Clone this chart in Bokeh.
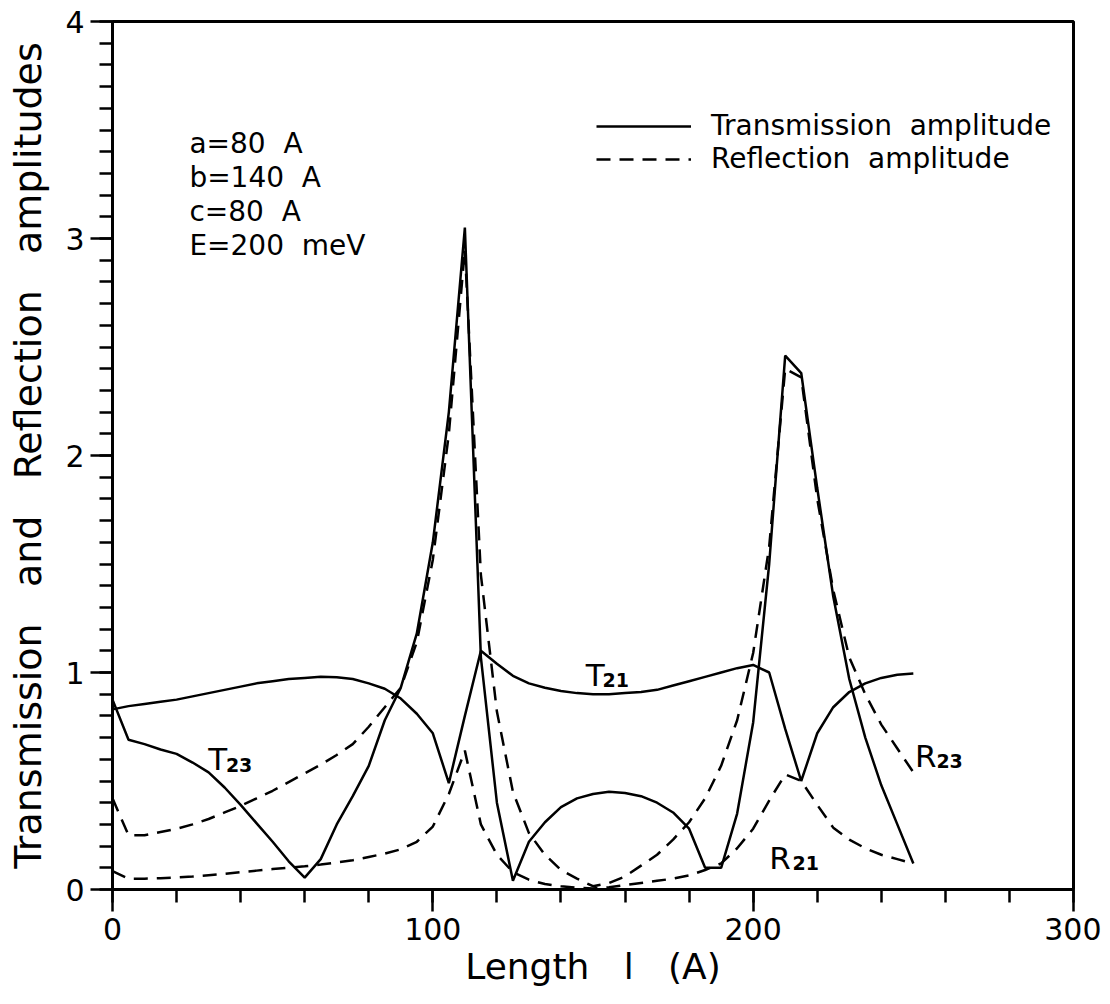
from bokeh.plotting import figure
from bokeh.models import Range1d, SingleIntervalTicker, Legend, LegendItem
from bokeh.core.properties import value
from bokeh.embed import file_html
from bokeh.resources import INLINE

# ---- data ----
length = [0, 5, 10, 15, 20, 25, 30, 35, 40, 45, 50, 55, 60, 65, 70, 75, 80, 85, 90, 95,
          100, 105, 110, 115, 120, 125, 130, 135, 140, 145, 150, 155, 160, 165, 170, 175,
          180, 185, 190, 195, 200, 205, 210, 215, 220, 225, 230, 235, 240, 245, 250]

T21 = [0.83, 0.845, 0.855, 0.865, 0.875, 0.89, 0.905, 0.92, 0.935, 0.95, 0.96, 0.97, 0.975,
       0.98, 0.978, 0.97, 0.95, 0.925, 0.88, 0.81, 0.72, 0.49, 0.80, 1.10, 1.04, 0.985, 0.95,
       0.93, 0.915, 0.905, 0.90, 0.90, 0.905, 0.91, 0.92, 0.94, 0.96, 0.98, 1.00, 1.02, 1.035,
       1.00, 0.74, 0.50, 0.72, 0.84, 0.91, 0.95, 0.975, 0.99, 0.995]

T23 = [0.875, 0.69, 0.67, 0.645, 0.625, 0.585, 0.54, 0.47, 0.39, 0.305, 0.22, 0.13, 0.055,
       0.14, 0.30, 0.43, 0.57, 0.78, 0.93, 1.18, 1.60, 2.20, 3.05, 1.07, 0.40, 0.04, 0.22,
       0.31, 0.38, 0.42, 0.44, 0.45, 0.445, 0.43, 0.40, 0.355, 0.28, 0.10, 0.10, 0.35, 0.77,
       1.50, 2.46, 2.38, 1.85, 1.35, 0.97, 0.70, 0.48, 0.30, 0.12]

R23 = [0.42, 0.25, 0.25, 0.265, 0.28, 0.30, 0.325, 0.355, 0.385, 0.42, 0.455, 0.495, 0.535,
       0.575, 0.62, 0.67, 0.75, 0.84, 0.93, 1.14, 1.52, 2.10, 2.95, 1.45, 0.82, 0.45, 0.26,
       0.16, 0.09, 0.05, 0.015, 0.03, 0.06, 0.11, 0.16, 0.23, 0.31, 0.42, 0.57, 0.78, 1.09,
       1.58, 2.40, 2.36, 1.80, 1.38, 1.07, 0.90, 0.76, 0.65, 0.54]

R21 = [0.085, 0.05, 0.05, 0.052, 0.055, 0.06, 0.066, 0.072, 0.08, 0.087, 0.094, 0.10, 0.107,
       0.115, 0.125, 0.135, 0.15, 0.165, 0.185, 0.22, 0.29, 0.44, 0.64, 0.30, 0.16, 0.08, 0.045,
       0.025, 0.015, 0.008, 0.005, 0.01, 0.02, 0.03, 0.04, 0.05, 0.065, 0.09, 0.12, 0.19, 0.28,
       0.41, 0.53, 0.50, 0.39, 0.285, 0.23, 0.19, 0.16, 0.14, 0.12]

NB = "\u00a0"
params = ["a=80" + NB * 2 + "A", "b=140" + NB * 2 + "A", "c=80" + NB * 2 + "A",
          "E=200" + NB * 2 + "meV"]
curve_names = ["T", "T", "R", "R"]
curve_subs = ["23", "21", "21", "23"]

FONT = "DejaVu Sans"

p = figure(width=1101, height=997, output_backend="svg", toolbar_location=None,
           x_range=Range1d(0, 300), y_range=Range1d(0, 4),
           min_border_left=112, min_border_right=28, min_border_top=21, min_border_bottom=108)
p.background_fill_color = "white"
p.border_fill_color = "white"
p.outline_line_color = "black"
p.outline_line_width = 3
p.xgrid.visible = False
p.ygrid.visible = False

p.xaxis.ticker = SingleIntervalTicker(interval=100, num_minor_ticks=5)
p.yaxis.ticker = SingleIntervalTicker(interval=1, num_minor_ticks=10)

for ax in (p.xaxis[0], p.yaxis[0]):
    ax.axis_line_width = 3
    ax.axis_line_color = "black"
    ax.major_tick_line_width = 2.5
    ax.minor_tick_line_width = 2.5
    ax.major_tick_line_color = "black"
    ax.minor_tick_line_color = "black"
    ax.major_tick_in = 0
    ax.minor_tick_in = 0
    ax.major_tick_out = 22
    ax.minor_tick_out = 13
    ax.major_label_text_font = FONT
    ax.major_label_text_font_size = "30px"
    ax.major_label_text_color = "black"
    ax.axis_label_text_font = FONT
    ax.axis_label_text_font_style = "normal"
    ax.axis_label_text_color = "black"

p.xaxis.axis_label = "Length" + NB * 3 + "l" + NB * 3 + "(A)"
p.xaxis.axis_label_text_font_size = "36px"
p.xaxis.major_label_standoff = 6
p.xaxis.axis_label_standoff = 3
p.yaxis.axis_label = ("Transmission" + NB * 3 + "and" + NB * 3 + "Reflection" + NB * 3 +
                      "amplitudes")
p.yaxis.axis_label_text_font_size = "38px"
p.yaxis.major_label_standoff = 6
p.yaxis.axis_label_standoff = 12

LW = 2.5
DASH = "14 9"
r_t21 = p.line(length, T21, line_color="black", line_width=LW)
r_t23 = p.line(length, T23, line_color="black", line_width=LW)
r_r21 = p.line(length, R21, line_color="black", line_width=LW, line_dash=DASH)
r_r23 = p.line(length, R23, line_color="black", line_width=LW, line_dash=DASH)

legend = Legend(items=[LegendItem(label="Transmission" + NB * 2 + "amplitude", renderers=[r_t21]),
                       LegendItem(label="Reflection" + NB * 2 + "amplitude", renderers=[r_r21])],
                location=(484, 714), orientation="vertical",
                label_text_font=FONT, label_text_font_size="28px", label_text_color="black",
                glyph_width=95, glyph_height=30, label_height=30, label_standoff=20,
                spacing=0, padding=0, margin=0,
                border_line_alpha=0, background_fill_alpha=0)
p.add_layout(legend)

# parameter block
px = [24] * len(params)
py = [3.44 - 0.157 * i for i in range(len(params))]
p.text(x=px, y=py, text=params, text_font=value(FONT), text_font_size="28px",
       text_color="black", text_baseline="alphabetic", text_align="left")

# curve labels with subscripts
lab_x = [29.9, 147.7, 205.0, 250.5]
lab_y = [0.60, 0.99, 0.147, 0.613]
sub_x = [35.4, 153.0, 212.3, 257.2]
sub_y = [0.575, 0.966, 0.124, 0.59]
p.text(x=lab_x, y=lab_y, text=curve_names, text_font=value(FONT), text_font_size="31px",
       text_color="black", text_baseline="alphabetic", text_align="left")
p.text(x=sub_x, y=sub_y, text=curve_subs, text_font=value(FONT), text_font_size="19px",
       text_font_style="bold", text_color="black", text_baseline="alphabetic", text_align="left")

open("out.html", "w").write(file_html(p, INLINE))
